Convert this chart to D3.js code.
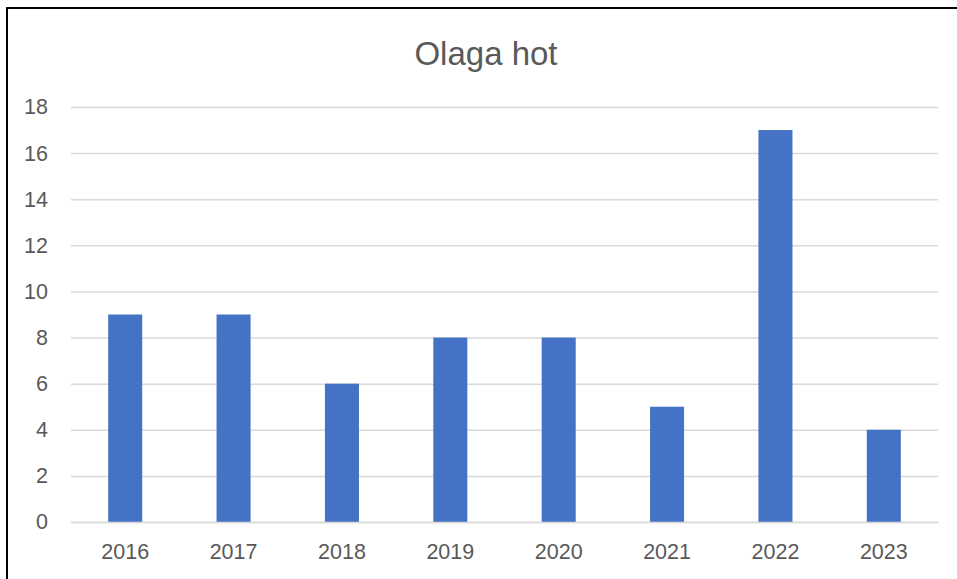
<!DOCTYPE html>
<html><head><meta charset="utf-8">
<script src="https://cdn.jsdelivr.net/npm/d3@7"></script>
<style>body{margin:0;background:#fff;}svg{display:block;}</style>
</head><body>
<svg id="c" width="957" height="579"></svg>
<script>
const title = "Olaga hot";
const categories = ["2016","2017","2018","2019","2020","2021","2022","2023"];
const values = [9, 9, 6, 8, 8, 5, 17, 4];
const yTicks = [0,2,4,6,8,10,12,14,16,18];

(function(){
const svg = d3.select("#c");
const font = "'Liberation Sans', Arial, sans-serif";
const mLeft = 71, mRight = 938, mTop = 107, mBottom = 522;

svg.append("rect").attr("x",7).attr("y",8).attr("width",980).attr("height",600)
  .attr("fill","#fff").attr("stroke","#000").attr("stroke-width",2);

const x = d3.scaleBand().domain(categories).range([mLeft,mRight]).paddingInner(0.686).paddingOuter(0.343);
const y = d3.scaleLinear().domain([0,18]).range([mBottom,mTop]);

const yAxis = d3.axisLeft(y).tickValues(yTicks).tickSize(-(mRight-mLeft)).tickPadding(23);
const gy = svg.append("g").attr("transform",`translate(${mLeft},0)`).call(yAxis);
gy.select(".domain").remove();
gy.selectAll(".tick line").attr("stroke","#d9d9d9").attr("stroke-width",1.5);
gy.selectAll(".tick text").attr("fill","#595959").style("font-family",font).style("font-size","21.5px");

svg.append("g").selectAll("rect").data(values).join("rect")
  .attr("x",(d,i)=>x(categories[i])).attr("width",x.bandwidth())
  .attr("y",d=>y(d)).attr("height",d=>y(0)-y(d)).attr("fill","#4472c4");

const xAxis = d3.axisBottom(x).tickSize(0).tickPadding(22);
const gx = svg.append("g").attr("transform",`translate(0,${mBottom})`).call(xAxis);
gx.select(".domain").attr("stroke","#d9d9d9").attr("stroke-width",1.5);
gx.selectAll(".tick text").attr("fill","#595959").style("font-family",font).style("font-size","21.5px");

svg.append("text").attr("x",486).attr("y",65).attr("text-anchor","middle")
  .attr("fill","#595959").style("font-family",font).style("font-size","33px").text(title);
})();
</script>
</body></html>
